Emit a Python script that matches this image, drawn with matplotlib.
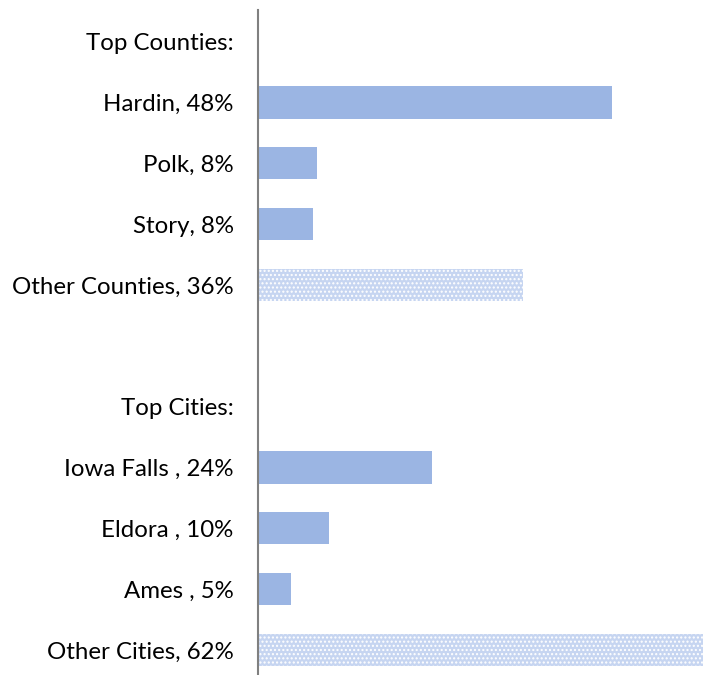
import matplotlib.pyplot as plt

# rows top to bottom, '' is the gap between the two groups
labels = ['Top Counties:', 'Hardin, 48%', 'Polk, 8%', 'Story, 8%', 'Other Counties, 36%', '',
          'Top Cities:', 'Iowa Falls , 24%', 'Eldora , 10%', 'Ames , 5%', 'Other Cities, 62%']
values = [0, 48, 8, 7.5, 35.9, 0, 0, 23.6, 9.6, 4.5, 62]
is_other = [False, False, False, False, True, False, False, False, False, False, True]

plt.rcParams['font.family'] = ['Lato', 'DejaVu Sans']
plt.rcParams['hatch.linewidth'] = 1.0

fig = plt.figure(figsize=(7.03, 6.75), dpi=100)
ax = fig.add_axes([258 / 703, 0, 1 - 258 / 703, 1 - 10 / 675])

ypos = list(range(len(labels)))
for y, v, o in zip(ypos, values, is_other):
    if o:
        ax.barh(y, v, height=0.53, color='#C6D5F1', edgecolor='white', linewidth=0, hatch='....')
    else:
        ax.barh(y, v, height=0.53, color='#9BB5E3', linewidth=0)

ax.set_yticks(ypos)
ax.set_yticklabels(labels, fontsize=17.3)
ax.tick_params(axis='y', length=0, pad=17.5)
ax.set_xticks([])
ax.set_xlim(0, 60.3)
ax.set_ylim(10.41, -0.52)
for s in ['top', 'right', 'bottom']:
    ax.spines[s].set_visible(False)
ax.spines['left'].set_color('#808080')
ax.spines['left'].set_linewidth(1.5)

fig.savefig('out.png', dpi=100)
